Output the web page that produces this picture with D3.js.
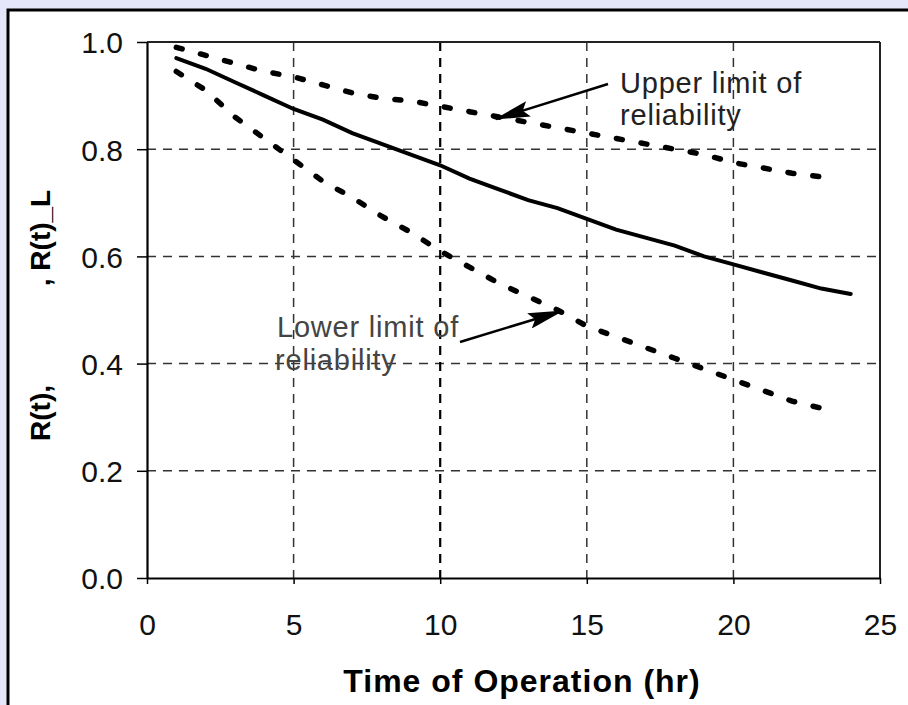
<!DOCTYPE html>
<html><head><meta charset="utf-8">
<script src="https://cdn.jsdelivr.net/npm/d3@7"></script>
<style>html,body{margin:0;padding:0;background:#e6e6fa;}svg{display:block;}</style>
</head><body>
<script>
const timesR = [1,2,3,4,5,6,7,8,9,10,11,12,13,14,15,16,17,18,19,20,21,22,23,24];
const reliability = [0.97,0.95,0.925,0.90,0.875,0.855,0.83,0.81,0.79,0.77,0.745,0.725,0.705,0.69,0.67,0.65,0.635,0.62,0.60,0.585,0.57,0.555,0.54,0.53];
const timesLim = [1,2,3,4,5,6,7,8,9,10,11,12,13,14,15,16,17,18,19,20,21,22,23.5];
const upperLimit = [0.99,0.975,0.96,0.945,0.935,0.92,0.905,0.895,0.89,0.88,0.87,0.86,0.85,0.84,0.83,0.82,0.81,0.80,0.79,0.775,0.765,0.755,0.745];
const lowerLimit = [0.945,0.91,0.86,0.82,0.78,0.74,0.71,0.675,0.645,0.61,0.58,0.55,0.525,0.50,0.47,0.45,0.43,0.41,0.39,0.37,0.35,0.33,0.31];
const xTicks = [0,5,10,15,20,25];
const yTicks = [0,0.2,0.4,0.6,0.8,1.0];

const W=908,H=705;
const L=147,T=42,R=880,B=578;
const tf="Liberation Sans, Arial, sans-serif";
const svg=d3.select("body").append("svg").attr("width",W).attr("height",H);
svg.append("rect").attr("x",0).attr("y",0).attr("width",W).attr("height",H).attr("fill","#e6e6fa");
svg.append("rect").attr("x",8).attr("y",10).attr("width",W+10).attr("height",H+10).attr("fill","#fff").attr("stroke","#000").attr("stroke-width",3);

const x=d3.scaleLinear().domain([0,25]).range([L,R]);
const y=d3.scaleLinear().domain([0,1]).range([B,T]);

const defs=svg.append("defs");
defs.append("marker").attr("id","ah").attr("viewBox","0 0 36 16").attr("refX",34).attr("refY",8)
  .attr("markerWidth",36).attr("markerHeight",16).attr("markerUnits","userSpaceOnUse").attr("orient","auto")
  .append("path").attr("d","M0,0L36,8L0,16L6,8z").attr("fill","#000");

// grid
const g=svg.append("g");
g.selectAll(".hg").data([0.2,0.4,0.6,0.8]).join("line")
  .attr("x1",L).attr("x2",R).attr("y1",d=>y(d)).attr("y2",d=>y(d))
  .attr("stroke","#333").attr("stroke-width",1.5).attr("stroke-dasharray","9 7");
g.selectAll(".vg").data([5,10,15,20]).join("line")
  .attr("y1",T).attr("y2",B).attr("x1",d=>x(d)).attr("x2",d=>x(d))
  .attr("stroke",d=>d===10?"#000":"#333").attr("stroke-width",d=>d===10?2.2:1.5).attr("stroke-dasharray","9 7");

// frame
svg.append("line").attr("x1",L).attr("x2",R).attr("y1",T).attr("y2",T).attr("stroke","#222").attr("stroke-width",2);
svg.append("line").attr("x1",R).attr("x2",R).attr("y1",T).attr("y2",B).attr("stroke","#222").attr("stroke-width",2);

// axes
const xa=svg.append("g").attr("transform",`translate(0,${B})`)
  .call(d3.axisBottom(x).tickValues(xTicks).tickFormat(d3.format("d")).tickSize(6).tickSizeOuter(0));
const ya=svg.append("g").attr("transform",`translate(${L},0)`)
  .call(d3.axisLeft(y).tickValues(yTicks).tickFormat(d3.format(".1f")).tickSize(10).tickSizeOuter(0));
[xa,ya].forEach(a=>{
  a.select(".domain").attr("stroke","#000").attr("stroke-width",2.2);
  a.selectAll(".tick line").attr("stroke","#000").attr("stroke-width",1.5);
  a.selectAll("text").attr("font-family",tf).attr("font-size",30).attr("fill","#111");
});
xa.selectAll("text").attr("y",0).attr("dy",0).attr("transform","translate(0,57)");
ya.selectAll("text").attr("x",-24).attr("dy","0.36em");

// lines
const lineR=d3.line().x((d,i)=>x(timesR[i])).y(d=>y(d));
const lineL=d3.line().x((d,i)=>x(timesLim[i])).y(d=>y(d));
svg.append("path").attr("d",lineR(reliability)).attr("fill","none").attr("stroke","#000").attr("stroke-width",4).attr("stroke-linecap","round");
svg.append("path").attr("d",lineL(upperLimit)).attr("fill","none").attr("stroke","#000").attr("stroke-width",5.5).attr("stroke-linecap","round").attr("stroke-dasharray","6 19");
svg.append("path").attr("d",lineL(lowerLimit)).attr("fill","none").attr("stroke","#000").attr("stroke-width",5.5).attr("stroke-linecap","round").attr("stroke-dasharray","6 19");

// annotations
const up=svg.append("text").attr("font-family",tf).attr("font-size",29).attr("letter-spacing",0.8).attr("fill","#222");
up.append("tspan").attr("x",620).attr("y",93).text("Upper limit of");
up.append("tspan").attr("x",620).attr("y",125).text("reliability");
svg.append("line").attr("x1",608).attr("y1",84).attr("x2",496).attr("y2",119).attr("stroke","#000").attr("stroke-width",2.5).attr("marker-end","url(#ah)");
const lo=svg.append("text").attr("font-family",tf).attr("font-size",29).attr("letter-spacing",0.8).attr("fill","#444");
lo.append("tspan").attr("x",277).attr("y",337).text("Lower limit of");
lo.append("tspan").attr("x",275).attr("y",370).text("reliability");
svg.append("line").attr("x1",460).attr("y1",342).attr("x2",562).attr("y2",311).attr("stroke","#000").attr("stroke-width",2.5).attr("marker-end","url(#ah)");

// axis titles
svg.append("text").attr("x",522).attr("y",692).attr("text-anchor","middle").attr("font-family",tf)
  .attr("font-weight","bold").attr("font-size",32).attr("letter-spacing",1).text("Time of Operation (hr)");
svg.append("text").attr("transform","translate(50,413) rotate(-90)").attr("text-anchor","middle").attr("font-family",tf)
  .attr("font-weight","bold").attr("font-size",28).text("R(t),");
svg.append("text").attr("transform","translate(50,238) rotate(-90)").attr("text-anchor","middle").attr("font-family",tf)
  .attr("font-weight","bold").attr("font-size",28).text(", R(t)_L");
</script>
</body></html>
